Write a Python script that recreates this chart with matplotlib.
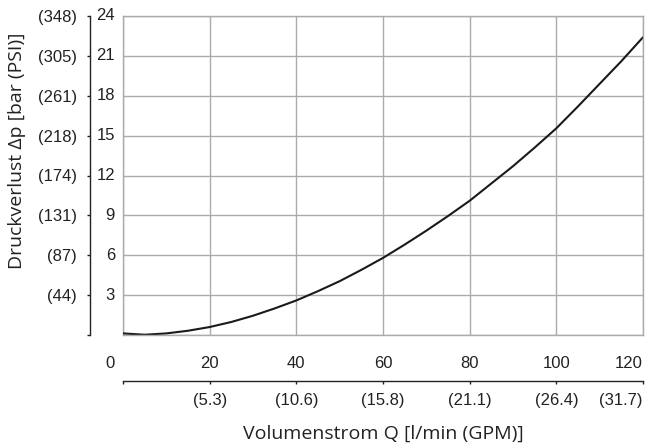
import matplotlib
matplotlib.use("Agg")
import matplotlib.pyplot as plt
import matplotlib.transforms as mtransforms

# Data
flow_lpm = [0, 5, 10, 15, 20, 25, 30, 35, 40, 45, 50, 55, 60, 65, 70, 75, 80, 85, 90, 95,
            100, 105, 110, 115, 120]
dp_bar = [0.12, 0.02, 0.12, 0.32, 0.6, 0.98, 1.45, 2.0, 2.6, 3.3, 4.05, 4.9, 5.8, 6.8,
          7.85, 8.95, 10.1, 11.4, 12.7, 14.1, 15.55, 17.2, 18.9, 20.6, 22.4]

x_ticks = [0, 20, 40, 60, 80, 100, 120]
x_labels = ["0", "20", "40", "60", "80", "100", "120"]
gpm_labels = ["", "(5.3)", "(10.6)", "(15.8)", "(21.1)", "(26.4)", "(31.7)"]
y_ticks = [0, 3, 6, 9, 12, 15, 18, 21, 24]
bar_labels = ["", "3", "6", "9", "12", "15", "18", "21", "24"]
psi_labels = ["", "(44)", "(87)", "(131)", "(174)", "(218)", "(261)", "(305)", "(348)"]

W, H = 652, 446
DPI = 100
GRAY = "#ababab"
INK = "#222222"
NUM_FONT = ["Liberation Sans", "DejaVu Sans"]
LBL_FONT = ["Open Sans", "DejaVu Sans"]
NUM_SIZE = 12

fig = plt.figure(figsize=(W / DPI, H / DPI), dpi=DPI)
left, right, top, bottom = 123, 643, 16, 335
ax = fig.add_axes([left / W, 1 - bottom / H, (right - left) / W, (bottom - top) / H])

ax.plot(flow_lpm, dp_bar, color="#1a1a1a", lw=1.5, solid_capstyle="round",
        solid_joinstyle="round")
ax.set_xlim(0, 120)
ax.set_ylim(0, 24)

# Grid
ax.set_xticks(x_ticks)
ax.set_yticks(y_ticks)
ax.grid(True, color=GRAY, lw=1.0)
ax.set_axisbelow(True)
for s in ["top", "right", "bottom"]:
    ax.spines[s].set_color(GRAY)
    ax.spines[s].set_linewidth(1.0)
ax.axvline(0, color=GRAY, lw=1.0, clip_on=False, zorder=0.5)

# Left black spine, outward
px2pt = 72 / DPI
ax.spines["left"].set_position(("outward", 33 * px2pt))
ax.spines["left"].set_color(INK)
ax.spines["left"].set_linewidth(1.0)
ax.tick_params(axis="y", direction="out", length=3 * px2pt, width=1.0, color=INK,
               pad=10 * px2pt)
ax.set_yticklabels(psi_labels, fontfamily=NUM_FONT, fontsize=NUM_SIZE, color=INK)

# inner bar labels
trans = ax.get_yaxis_transform() + mtransforms.ScaledTranslation(-8 / DPI, 0, fig.dpi_scale_trans)
for yv, lab in zip(y_ticks, bar_labels):
    if lab:
        ax.text(0, yv, lab, transform=trans, ha="right", va="center",
                fontfamily=NUM_FONT, fontsize=NUM_SIZE, color=INK)

# Bottom l/min labels (no tick marks)
ax.tick_params(axis="x", length=0, pad=21 * px2pt)
ax.set_xticklabels(x_labels, fontfamily=NUM_FONT, fontsize=NUM_SIZE, color=INK)
xl = ax.get_xticklabels()
xl[0].set_transform(xl[0].get_transform() + mtransforms.ScaledTranslation(-13 / DPI, 0, fig.dpi_scale_trans))
xl[-1].set_horizontalalignment("right")

# Secondary GPM axis
sec = ax.secondary_xaxis("bottom")
sec.spines["bottom"].set_position(("outward", 46 * px2pt))
sec.spines["bottom"].set_color(INK)
sec.spines["bottom"].set_linewidth(1.0)
sec.set_xticks(x_ticks)
sec.set_xticklabels(gpm_labels, fontfamily=NUM_FONT, fontsize=NUM_SIZE, color=INK)
sec.tick_params(axis="x", direction="out", length=3 * px2pt, width=1.0, color=INK,
                pad=9 * px2pt)
sl = sec.get_xticklabels()
sl[-1].set_horizontalalignment("right")

# Axis titles
fig.text(383.5 / W, 1 - 434 / H, "Volumenstrom Q [l/min (GPM)]", ha="center", va="center",
         fontfamily=LBL_FONT, fontsize=14, color=INK)
fig.text(17 / W, 1 - 151 / H, "Druckverlust \u0394p [bar (PSI)]", ha="center", va="center",
         rotation=90, fontfamily=LBL_FONT, fontsize=14, color=INK)

fig.savefig("out.png", dpi=DPI)
